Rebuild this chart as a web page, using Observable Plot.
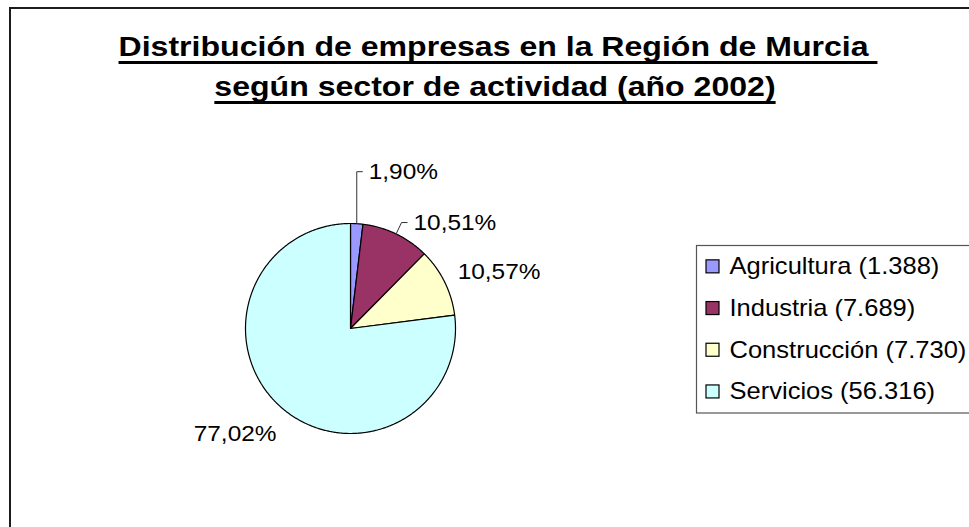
<!DOCTYPE html>
<html>
<head>
<meta charset="utf-8">
<script src="https://cdn.jsdelivr.net/npm/d3@7"></script>
<script src="https://cdn.jsdelivr.net/npm/@observablehq/plot@0.6"></script>
<style>
  html, body { margin: 0; padding: 0; background: #fff; }
  #wrap { position: relative; width: 969px; height: 527px; overflow: hidden; background: #fff; }
  #border { position: absolute; left: 9px; top: 7px; width: 2000px; height: 2000px; border: 2px solid #1c1c1c; box-sizing: border-box; }
  .tl { position: absolute; text-align: center; font: bold 28px "Liberation Sans", Arial, sans-serif; line-height: 38px; white-space: pre; color: #000; transform: scaleX(1.145); }
  .tl span { text-decoration: underline; text-decoration-thickness: 3px; text-underline-offset: 5px; text-decoration-skip-ink: none; }
  #chart { position: absolute; left: 0; top: 115px; }
</style>
</head>
<body>
<div id="wrap">
  <div id="border"></div>
  <div class="tl" id="t1" style="left:0; width:996px; top:28px; transform-origin:498px 0;"><span>Distribución de empresas en la Región de Murcia </span></div>
  <div class="tl" id="t2" style="left:0; width:990px; top:68px; transform-origin:495px 0;"><span>según sector de actividad (año 2002)</span></div>
  <div id="chart"></div>
</div>
<script>
// ---- data ----
const categories = ["Agricultura", "Industria", "Construcción", "Servicios"];
const counts = [1388, 7689, 7730, 56316];
const percents = [1.90, 10.51, 10.57, 77.02];
const colors = ["#9999FF", "#993366", "#FFFFCC", "#CCFFFF"];

// ---- formatting ----
const loc = d3.formatLocale({decimal: ",", thousands: ".", grouping: [3], currency: ["", ""]});
const fmtCount = loc.format(",d");
const fmtPct = loc.format(".2f");

// ---- layout ----
const CX = 350, CY = 328, R = 105;
const polar = (a, r) => ({x: CX + r * Math.sin(a), y: CY - r * Math.cos(a)});
const total = d3.sum(percents);
let cum = 0;
const slices = categories.map((c, i) => {
  const a0 = cum / total * 2 * Math.PI;
  cum += percents[i];
  const a1 = cum / total * 2 * Math.PI;
  return {category: c, a0, a1, mid: (a0 + a1) / 2};
});

const slicePts = [];
for (const s of slices) {
  slicePts.push({category: s.category, x: CX, y: CY});
  const n = Math.max(2, Math.ceil((s.a1 - s.a0) / (Math.PI / 360)));
  for (let k = 0; k <= n; k++) {
    const p = polar(s.a0 + (s.a1 - s.a0) * k / n, R);
    slicePts.push({category: s.category, x: p.x, y: p.y});
  }
  slicePts.push({category: s.category, x: CX, y: CY});
}

// label placement offsets (pixels from rim point at mid-angle)
const labelLayout = [
  {leader: [[0, -52], [6, -52]], dx: 12, dy: -52},
  {leader: [[5.4, -11.4], [11.4, -11.4]], dx: 17.4, dy: -11.4},
  {leader: null, dx: 13, dy: -10.5},
  {leader: null, dx: -4.6, dy: 27}
];

const labels = slices.map((s, i) => {
  const p = polar(s.mid, R);
  const L = labelLayout[i];
  return {category: s.category, x: p.x + L.dx, y: p.y + L.dy,
          anchor: Math.sin(s.mid) >= 0 ? "start" : "end",
          text: fmtPct(percents[i]) + "%"};
});
const leaderPts = [];
slices.forEach((s, i) => {
  const L = labelLayout[i];
  if (!L.leader) return;
  const p = polar(s.mid, R);
  leaderPts.push({category: s.category, x: p.x, y: p.y});
  for (const [dx, dy] of L.leader) leaderPts.push({category: s.category, x: p.x + dx, y: p.y + dy});
});

const LEG = {x1: 696.5, x2: 970, y1: 245.5, y2: 413, step: 41.7};
const legendItems = categories.map((c, i) => ({
  category: c,
  label: `${c} (${fmtCount(counts[i])})`,
  y: LEG.y1 + LEG.step * (i + 0.5)
}));

const chart = Plot.plot({
  width: 969,
  height: 412,
  marginTop: 0, marginRight: 0, marginBottom: 0, marginLeft: 0,
  x: {domain: [0, 969], range: [0, 969], axis: null},
  y: {domain: [115, 527], range: [0, 412], axis: null},
  color: {domain: categories, range: colors},
  style: {background: "transparent", overflow: "visible", fontFamily: "'Liberation Sans', Arial, sans-serif", color: "#000"},
  marks: [
    Plot.line(slicePts, {x: "x", y: "y", z: "category", fill: "category", stroke: "#000", strokeWidth: 1.2, strokeLinejoin: "round", curve: "linear"}),
    Plot.line(leaderPts, {x: "x", y: "y", z: "category", stroke: "#333", strokeWidth: 1, strokeLinecap: "butt", strokeLinejoin: "miter"}),
    Plot.text(labels.filter(d => d.anchor === "start"), {x: "x", y: "y", text: "text", textAnchor: "start", lineAnchor: "middle", fontSize: 22, fill: "#000"}),
    Plot.text(labels.filter(d => d.anchor === "end"), {x: "x", y: "y", text: "text", textAnchor: "end", lineAnchor: "middle", fontSize: 22, fill: "#000"}),
    Plot.rect([LEG], {x1: "x1", x2: "x2", y1: "y1", y2: "y2", fill: "#fff", stroke: "#555", strokeWidth: 1.2}),
    Plot.rect(legendItems, {x1: 706, x2: 719, y1: d => d.y - 6.5, y2: d => d.y + 6.5, fill: "category", stroke: "#000", strokeWidth: 1.2}),
    Plot.text(legendItems, {x: 729, y: "y", text: "label", textAnchor: "start", lineAnchor: "middle", fontSize: 23, fill: "#000"})
  ]
});

// widen glyphs horizontally (the reference type is stretched), keeping each text's anchor fixed
d3.select(chart).selectAll("text").each(function() {
  const t = d3.select(this);
  const tr = t.attr("transform");
  if (tr) {
    t.attr("transform", tr + " scale(1.11,1)");
  } else {
    const x = +t.attr("x") || 0, y = +t.attr("y") || 0;
    t.attr("x", null).attr("y", null).attr("transform", `translate(${x},${y}) scale(1.11,1)`);
  }
});
document.getElementById("chart").appendChild(chart);
</script>
</body>
</html>
